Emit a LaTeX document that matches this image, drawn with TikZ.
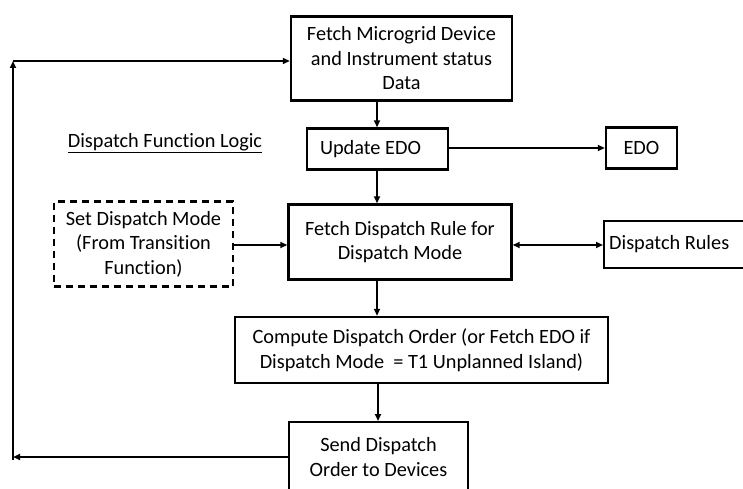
\documentclass[tikz,border=0pt]{standalone}
\usepackage{fontspec}
\setmainfont{Carlito}[Ligatures={NoCommon}]
\usetikzlibrary{arrows.meta}
\begin{document}
\begin{tikzpicture}[x=1pt,y=-1pt,
  txt/.style={font=\fontsize{20.3}{24.5}\selectfont},
  box/.style={draw,line width=2.4pt,align=center,inner sep=0pt,txt},
  dbox/.style={box,dashed,dash pattern=on 7pt off 5pt},
  arr/.style={line width=1.9pt,-{Triangle[length=7pt,width=6pt]}},
  darr/.style={line width=1.9pt,{Triangle[length=7pt,width=6pt]}-{Triangle[length=7pt,width=6pt]}}]
\useasboundingbox (0,0) rectangle (743,489);
\clip (0,0) rectangle (743,489);
\node[box,minimum width=221pt,minimum height=84pt] (fetch) at (401.5,58.5) {Fetch Microgrid Device\\and Instrument status\\Data};
\node[txt,inner sep=0pt] (title) at (165,143) {\underline{Dispatch Function Logic}};
\node[box,minimum width=141pt,minimum height=41pt] (upd) at (377.5,149) {Update EDO\hspace*{14pt}};
\node[box,minimum width=71pt,minimum height=41pt] (edo) at (641.5,148) {EDO};
\node[dbox,minimum width=179pt,minimum height=85pt] (mode) at (143.5,244) {Set Dispatch Mode\\(From Transition\\Function)};
\node[box,minimum width=223pt,minimum height=75pt] (rule) at (400,242) {Fetch Dispatch Rule for\\Dispatch Mode};
\node[box,minimum width=150pt,minimum height=47pt,anchor=west] (rules) at (603,244.5) {Dispatch Rules\hspace*{20pt}};
\node[box,minimum width=373pt,minimum height=66pt] (comp) at (421.5,350) {Compute Dispatch Order (or Fetch EDO if\\Dispatch Mode \ = T1 Unplanned Island)};
\node[box,minimum width=179pt,minimum height=100pt,anchor=north] (send) at (378.5,421) {};
\node[txt,align=center,inner sep=0pt] (sendt) at (378.5,457) {Send Dispatch\\Order to Devices};
\coordinate (bl) at (13,457);
\coordinate (tl) at (13,61);
\draw[arr] (fetch.south -| 377,0) -- (upd.north -| 377,0);
\draw[arr] (upd.east |- 0,148) -- (edo.west |- 0,148);
\draw[arr] (upd.south -| 377,0) -- (rule.north -| 377,0);
\draw[arr] (mode.east |- 0,245) -- (rule.west |- 0,245);
\draw[darr] (rule.east |- 0,245) -- (rules.west |- 0,245);
\draw[arr] (rule.south -| 377,0) -- (comp.north -| 377,0);
\draw[arr] (comp.south -| 378,0) -- (send.north -| 378,0);
\draw[arr] (send.west |- bl) -- (bl);
\draw[arr] (13,460) -- (tl);
\draw[arr,line width=1.4pt] (tl) -- (fetch.west |- tl);
\end{tikzpicture}
\end{document}
